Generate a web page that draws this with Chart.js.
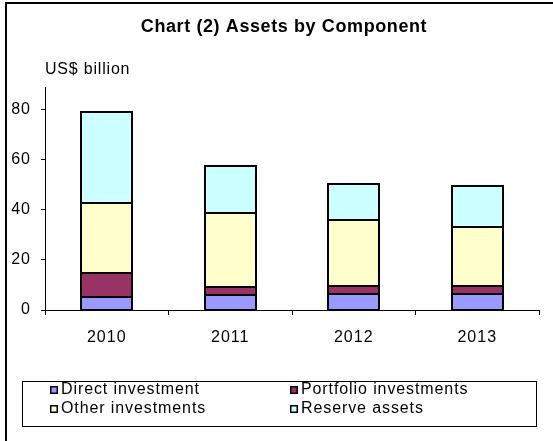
<!DOCTYPE html>
<html>
<head>
<meta charset="utf-8">
<script src="https://cdn.jsdelivr.net/npm/chart.js@4/dist/chart.umd.min.js"></script>
<style>
  html, body { margin: 0; padding: 0; background: #fff; }
  #wrap { position: relative; width: 553px; height: 441px; }
</style>
</head>
<body>
<div id="wrap"><canvas id="c" width="553" height="441"></canvas></div>
<script>
// Stacked external assets by component, US$ billion
const categories = ['2010', '2011', '2012', '2013'];
const directInvestment = [5.3, 6.0, 6.2, 6.2];
const portfolioInvestments = [9.6, 3.3, 3.2, 3.2];
const otherInvestments = [28.0, 29.6, 26.6, 23.9];
const reserveAssets = [36.1, 18.4, 14.4, 16.1];
const yTickValues = [0, 20, 40, 60, 80];

const titleText = 'Chart (2) Assets by Component';
const unitText = 'US$ billion';
const FONT = '"Liberation Sans", Arial, sans-serif';

const seg = (label, data, color) => ({
  label, data,
  backgroundColor: color,
  borderWidth: 0,
  inflateAmount: 0,
  categoryPercentage: 1.0,
  barPercentage: 0.41
});

// Slightly widened letter spacing for all axis text
const spacing = {
  id: 'spacing',
  beforeDraw(chart) { chart.ctx.letterSpacing = '1px'; },
  afterDatasetsDraw(chart) { chart.ctx.letterSpacing = '0px'; }
};

// Crisp 2px black outline around every stacked segment
const outlines = {
  id: 'outlines',
  afterDatasetsDraw(chart) {
    const ctx = chart.ctx;
    ctx.save();
    ctx.strokeStyle = '#000';
    ctx.lineWidth = 2;
    chart.data.datasets.forEach((ds, i) => {
      chart.getDatasetMeta(i).data.forEach(bar => {
        const p = bar.getProps(['x', 'y', 'base', 'width']);
        const l = Math.round(p.x - p.width / 2);
        const r = Math.round(p.x + p.width / 2);
        const t = Math.round(Math.min(p.y, p.base));
        const b = Math.round(Math.max(p.y, p.base));
        ctx.strokeRect(l, t, r - l, b - t);
      });
    });
    ctx.restore();
  }
};

// Frame, title, unit label and the boxed two-column legend
const decorations = {
  id: 'decorations',
  afterDraw(chart) {
    const ctx = chart.ctx;
    ctx.save();
    // outer frame
    ctx.strokeStyle = '#000';
    ctx.lineWidth = 2;
    ctx.beginPath();
    ctx.moveTo(6, 460);
    ctx.lineTo(6, 3);
    ctx.lineTo(600, 3);
    ctx.stroke();

    // title
    ctx.fillStyle = '#000';
    ctx.letterSpacing = '0.6px';
    ctx.font = 'bold 18px ' + FONT;
    ctx.textAlign = 'center';
    ctx.textBaseline = 'middle';
    ctx.fillText(titleText, 284, 27);

    // unit label
    ctx.letterSpacing = '0.8px';
    ctx.font = '16px ' + FONT;
    ctx.textAlign = 'left';
    ctx.fillText(unitText, 45, 70);

    // legend box
    ctx.letterSpacing = '0.9px';
    ctx.lineWidth = 1;
    ctx.strokeStyle = '#000';
    ctx.strokeRect(22.5, 381.5, 514, 45);

    const cols = [50, 290];
    const rows = [389, 408];
    ctx.font = '16px ' + FONT;
    ctx.textBaseline = 'middle';
    chart.data.datasets.forEach((ds, i) => {
      const x = cols[i % 2];
      const y = rows[Math.floor(i / 2)];
      ctx.fillStyle = ds.backgroundColor;
      ctx.fillRect(x, y - 3, 8, 8);
      ctx.strokeStyle = '#000';
      ctx.lineWidth = 1.5;
      ctx.strokeRect(x + 0.75, y - 2.25, 6.5, 6.5);
      ctx.fillStyle = '#000';
      ctx.fillText(ds.label, x + 11, y + 1);
    });
    ctx.restore();
  }
};

new Chart(document.getElementById('c'), {
  type: 'bar',
  data: {
    labels: categories,
    datasets: [
      seg('Direct investment', directInvestment, '#9999FF'),
      seg('Portfolio investments', portfolioInvestments, '#993366'),
      seg('Other investments', otherInvestments, '#FFFFCC'),
      seg('Reserve assets', reserveAssets, '#CCFFFF')
    ]
  },
  options: {
    responsive: false,
    animation: false,
    layout: { padding: { top: 87, left: 0, right: 14, bottom: 0 } },
    plugins: {
      legend: { display: false },
      title: { display: false },
      tooltip: { enabled: false }
    },
    scales: {
      x: {
        stacked: true,
        offset: true,
        afterFit(scale) { scale.height = 131; },
        grid: {
          offset: true,
          drawOnChartArea: false,
          drawTicks: true,
          tickLength: 5,
          color: '#000'
        },
        border: { display: true, color: '#000', width: 1 },
        ticks: {
          color: '#000',
          font: { family: FONT, size: 16 },
          padding: 13
        }
      },
      y: {
        stacked: true,
        min: 0,
        max: 89,
        afterFit(scale) { scale.width = 45; },
        afterBuildTicks(scale) {
          scale.ticks = yTickValues.map(v => ({ value: v }));
        },
        grid: {
          drawOnChartArea: false,
          drawTicks: true,
          tickLength: 4,
          color: '#000'
        },
        border: { display: true, color: '#000', width: 1 },
        ticks: {
          color: '#000',
          font: { family: FONT, size: 16 },
          padding: 10
        }
      }
    }
  },
  plugins: [spacing, outlines, decorations]
});
</script>
</body>
</html>
